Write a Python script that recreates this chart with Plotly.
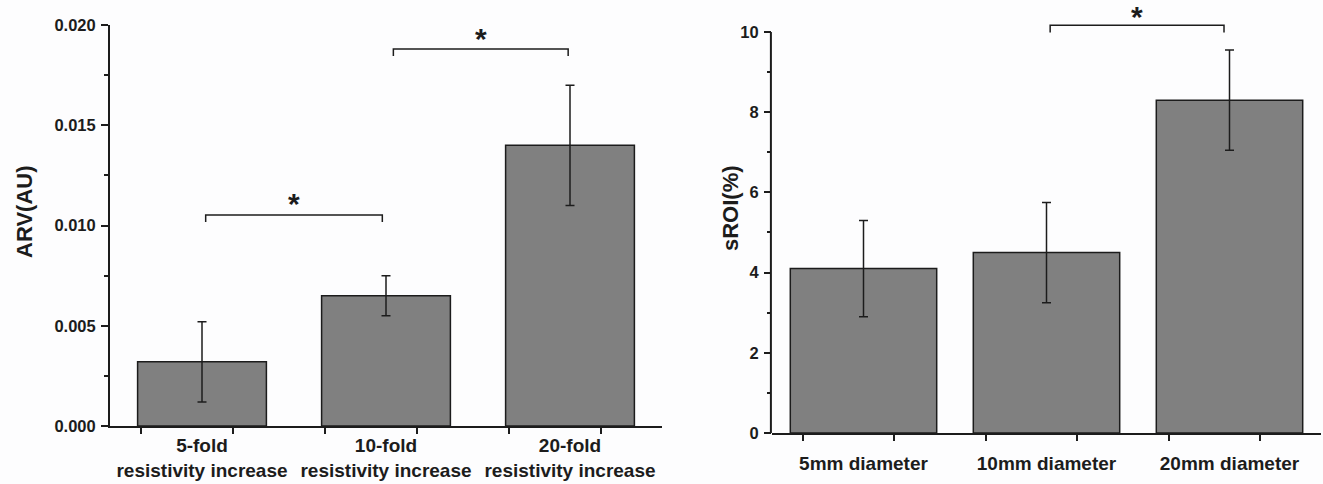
import plotly.graph_objects as go

W, H = 1323, 484

# ---------------- data ----------------
positions = [1, 2, 3]

arv_labels = ["5-fold<br>resistivity increase",
              "10-fold<br>resistivity increase",
              "20-fold<br>resistivity increase"]
arv_means = [0.0032, 0.0065, 0.0140]
arv_errors = [0.0020, 0.0010, 0.0030]
arv_sig_pairs = [(1.02, 1.98), (2.04, 2.99)]
arv_sig_heights = [0.01052, 0.01880]
arv_sig_drop = 0.00035
arv_star_heights = [0.01127, 0.01950]

sroi_labels = ["5mm diameter", "10mm diameter", "20mm diameter"]
sroi_means = [4.1, 4.5, 8.3]
sroi_errors = [1.2, 1.25, 1.25]
sroi_sig_pairs = [(2.02, 2.97)]
sroi_sig_heights = [10.17]
sroi_sig_drop = 0.18
sroi_star_heights = [10.45]

# ---------------- style ----------------
FONT = "Liberation Sans, Arial, Helvetica, sans-serif"
INK = "#1c1c1c"
BAR = "#808080"
BG = "#fdfdfe"

fig = go.Figure()

def add_panel(xa, ya, means, errors, width, pairs, heights, drop, stars):
    fig.add_trace(go.Bar(
        x=positions, y=means, width=width, xaxis=xa, yaxis=ya,
        marker=dict(color=BAR, line=dict(color=INK, width=1.5)),
        error_y=dict(type="data", array=errors, color=INK, thickness=1.5, width=4.5),
        hoverinfo="skip",
    ))
    for (a, b), h in zip(pairs, heights):
        fig.add_trace(go.Scatter(
            x=[a, a, b, b], y=[h - drop, h, h, h - drop], mode="lines",
            line=dict(color=INK, width=1.5), xaxis=xa, yaxis=ya, hoverinfo="skip",
        ))
    for (a, b), s in zip(pairs, stars):
        fig.add_annotation(
            x=(a + b) / 2, y=s, xref=xa, yref=ya, text="*", showarrow=False,
            yanchor="middle", yshift=-3,
            font=dict(family=FONT, size=30, color=INK, weight="bold"),
        )

add_panel("x", "y", arv_means, arv_errors, 0.7, arv_sig_pairs, arv_sig_heights,
          arv_sig_drop, arv_star_heights)
add_panel("x2", "y2", sroi_means, sroi_errors, 0.8, sroi_sig_pairs, sroi_sig_heights,
          sroi_sig_drop, sroi_star_heights)

xcommon = dict(
    range=[0.5, 3.5], showline=True, linewidth=2, linecolor=INK, showgrid=False,
    zeroline=False, tickvals=positions, ticks="", automargin=False,
    minor=dict(ticks="outside", tick0=2 / 3, dtick=0.5, ticklen=6, tickwidth=1.5,
               tickcolor=INK, showgrid=False),
    tickfont=dict(family=FONT, size=19, color=INK, weight="bold"),
    fixedrange=True,
)
ycommon = dict(
    showgrid=False, zeroline=False, ticks="outside", ticklen=7, tickwidth=1.5,
    tickcolor=INK, tick0=0, ticklabelstandoff=2, automargin=False,
    tickfont=dict(family=FONT, size=16.5, color=INK, weight="bold"),
    fixedrange=True,
)

Y2MAX = 10.75
fig.update_layout(
    width=W, height=H, margin=dict(l=0, r=0, t=0, b=0, pad=0), autosize=False,
    paper_bgcolor=BG, plot_bgcolor=BG, showlegend=False,
    xaxis=dict(xcommon, domain=[110 / W, 662 / W], anchor="y", ticktext=arv_labels,
               ticklabelstandoff=1),
    yaxis=dict(ycommon, domain=[58 / H, 459 / H], anchor="x", range=[0, 0.02],
               dtick=0.005, tickformat=".3f", showline=True, linewidth=2, linecolor=INK,
               minor=dict(ticks="outside", dtick=0.0025, ticklen=4, tickwidth=1.5,
                          tickcolor=INK, showgrid=False)),
    xaxis2=dict(xcommon, domain=[772 / W, 1321 / W], anchor="y2", ticktext=sroi_labels,
                ticklabelstandoff=12),
    yaxis2=dict(ycommon, domain=[51 / H, (51 + Y2MAX * 40.1) / H], anchor="x2",
                range=[0, Y2MAX], dtick=2, showline=False,
                minor=dict(ticks="outside", dtick=1, ticklen=4, tickwidth=1.5,
                           tickcolor=INK, showgrid=False)),
)

# right y-axis line only up to 10 so the bracket can sit above it
fig.add_shape(type="line", xref="x2 domain", x0=-0.002, x1=-0.002, yref="y2", y0=0, y1=10,
              line=dict(color=INK, width=2), layer="above")

# axis titles
fig.add_annotation(x=24 / W, y=1 - 212 / H, xref="paper", yref="paper", text="ARV(AU)",
                   textangle=-90, showarrow=False, xanchor="center", yanchor="middle",
                   font=dict(family=FONT, size=22, color=INK, weight="bold"))
fig.add_annotation(x=730 / W, y=1 - 208 / H, xref="paper", yref="paper", text="sROI(%)",
                   textangle=-90, showarrow=False, xanchor="center", yanchor="middle",
                   font=dict(family=FONT, size=22, color=INK, weight="bold"))

fig.write_html("out.html", config={"displayModeBar": False},
               post_script="document.body.style.margin='0';"
                           "document.body.style.overflow='hidden';")
